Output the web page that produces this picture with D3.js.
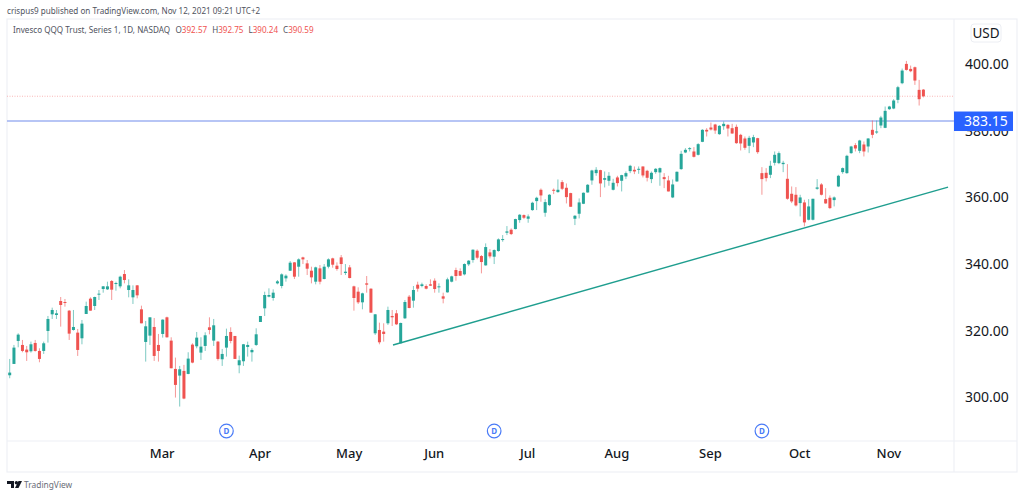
<!DOCTYPE html>
<html>
<head>
<meta charset="utf-8">
<script src="https://cdn.jsdelivr.net/npm/d3@7"></script>
<style>
  html, body { margin: 0; padding: 0; background: #fff; }
  svg { display: block; }
  text { font-family: "Noto Sans", sans-serif; }
</style>
</head>
<body>
<svg id="chart" width="1024" height="497"></svg>
<script>
const opens = [
  306.8,310.2,317.1,315.9,314.5,314.0,316.5,314.1,314.1,320.1,325.1,324.9,329.1,328.8,326.2,320.4,319.6,317.9,325.2,329.8,
  327.6,331.0,332.7,332.6,335.1,334.2,333.5,337.2,332.4,330.2,333.8,326.6,316.8,318.7,321.3,315.9,319.2,324.2,317.2,308.7,
  306.7,308.1,307.2,316.0,315.5,313.6,315.6,321.2,317.2,316.9,311.6,315.1,319.8,318.6,309.8,311.0,315.3,313.7,315.9,322.8,
  326.9,330.4,330.0,334.4,333.6,335.9,338.2,340.7,339.4,342.2,340.4,338.2,334.9,338.9,335.7,339.4,341.9,339.7,342.2,337.5,
  339.2,333.5,331.9,328.7,334.4,332.8,319.4,320.4,319.9,322.4,324.6,325.4,316.4,323.9,330.4,329.2,334.0,333.6,333.6,334.1,
  335.2,333.2,330.5,331.7,334.9,338.4,338.1,337.1,340.1,341.4,344.2,342.6,339.8,343.7,342.4,344.1,347.4,349.6,350.5,350.7,
  353.4,354.9,353.8,356.4,359.1,362.5,355.6,357.9,362.5,361.8,364.8,363.1,361.5,353.8,355.3,358.3,361.7,365.3,367.5,368.4,
  365.5,365.2,362.5,366.2,365.2,366.5,368.1,368.5,368.5,369.5,368.2,365.7,367.8,367.7,366.3,365.3,360.2,365.0,368.7,373.7,
  374.7,374.0,373.0,376.9,380.5,381.2,382.1,379.2,381.6,382.0,381.0,381.4,379.0,377.9,375.7,376.7,378.0,367.5,367.6,367.0,
  370.6,370.5,370.2,365.8,361.3,361.0,358.5,358.7,353.5,353.5,362.8,364.1,359.7,360.1,359.4,363.5,367.8,367.5,373.5,375.9,
  374.2,376.1,375.5,380.5,379.7,381.8,381.1,386.7,386.9,389.5,394.5,400.3,398.8,399.3,392.5,392.57
]
const highs = [
  311.7,315.9,319.4,317.4,315.6,316.9,317.4,314.9,316.9,324.6,327.1,326.4,330.3,329.7,326.4,326.4,320.7,323.4,328.9,330.2,
  330.4,332.4,333.6,334.9,335.4,334.9,336.7,338.4,335.6,333.8,333.9,327.7,323.1,324.2,324.0,319.2,323.6,324.4,318.2,312.1,
  309.6,309.9,313.7,316.4,319.8,318.2,319.7,324.2,323.7,317.1,314.7,320.8,321.2,318.6,312.7,316.2,316.9,314.9,320.9,324.6,
  331.9,332.9,332.6,335.4,337.4,337.1,341.1,340.8,341.9,342.4,341.4,339.4,339.4,339.9,340.2,341.9,342.1,340.7,342.9,340.2,
  339.9,333.7,333.2,331.6,336.6,332.9,325.2,322.6,322.4,327.4,326.4,326.4,322.6,329.4,330.9,333.6,334.9,334.6,334.1,335.6,
  335.9,334.4,331.6,336.1,336.7,339.1,338.9,340.4,341.4,344.6,344.6,342.9,346.4,344.7,344.6,347.9,348.9,351.6,350.9,353.8,
  355.2,355.1,355.1,358.9,360.4,362.9,359.7,361.2,362.9,365.6,365.4,364.4,361.6,354.9,359.9,361.7,364.2,368.5,369.3,368.5,
  368.0,367.8,365.8,366.7,367.0,368.0,370.0,369.5,369.5,369.5,368.5,368.0,369.0,369.2,367.5,366.7,365.6,368.0,374.2,375.0,
  375.3,375.3,376.5,380.7,381.0,382.7,382.3,381.9,383.0,382.2,382.3,382.1,379.3,378.5,378.7,379.0,378.1,369.3,369.0,371.2,
  374.0,374.0,371.2,370.2,363.5,363.3,361.0,359.5,359.7,359.8,365.7,364.5,363.0,360.8,360.5,367.0,369.2,373.0,375.7,376.5,
  377.5,377.0,378.0,383.3,383.3,384.7,387.5,387.7,389.7,393.7,398.9,401.2,399.8,399.5,395.5,392.75
]
const lows = [
  305.9,310.2,315.2,313.7,311.1,313.6,313.9,310.7,313.2,316.6,323.7,323.7,321.4,327.4,317.4,320.2,312.6,316.1,325.2,326.2,
  326.4,329.4,331.6,332.4,329.4,332.2,332.9,334.4,330.2,328.2,329.9,322.4,310.9,315.9,311.1,310.9,318.1,318.1,308.9,300.1,
  297.4,299.6,307.1,310.4,314.9,311.4,314.1,319.1,315.6,311.2,309.6,312.4,316.4,311.7,307.4,309.6,312.4,310.9,315.6,322.8,
  324.6,330.2,329.2,334.1,332.9,334.9,338.1,335.7,336.4,340.2,336.9,334.4,334.1,334.1,335.6,338.9,339.1,338.2,336.9,336.9,
  335.9,326.2,328.2,326.6,331.6,325.6,318.9,316.1,316.9,321.9,321.6,321.9,316.4,323.7,326.9,327.1,331.9,333.2,332.6,333.6,
  331.6,331.6,328.4,331.6,334.7,335.2,336.6,336.8,339.6,340.6,341.6,337.4,339.7,341.9,340.2,343.9,346.9,348.9,348.9,350.6,
  352.6,353.7,352.6,356.2,356.4,358.9,354.4,357.6,361.2,361.6,362.4,358.4,357.4,351.9,353.9,358.2,361.6,364.0,366.7,360.3,
  363.2,363.7,362.3,363.5,362.0,365.7,367.5,367.2,367.3,366.2,365.0,364.5,367.3,363.7,363.0,362.0,360.0,364.9,368.5,373.5,
  374.0,372.2,372.8,376.8,378.5,380.3,379.3,379.0,380.5,378.5,379.3,376.3,374.3,374.5,373.5,375.3,373.3,361.0,365.0,366.0,
  369.8,370.2,367.8,359.5,358.5,357.5,354.5,351.5,353.3,353.3,362.5,360.8,358.3,356.7,357.5,363.3,367.3,367.3,373.3,374.0,
  373.5,372.5,373.7,378.0,379.3,381.0,381.0,386.5,386.7,388.5,394.2,398.3,397.8,394.0,387.8,390.24
]
const closes = [
  307.6,315.1,319.0,314.1,313.7,316.1,314.1,311.7,316.4,323.7,326.4,325.4,327.9,328.5,319.3,321.3,314.4,322.3,327.6,326.2,
  330.3,331.3,333.5,333.5,332.5,334.5,336.4,335.4,333.8,332.4,330.8,322.4,321.5,324.2,312.6,314.1,323.5,318.2,308.9,303.9,
  308.6,299.8,311.8,310.6,318.1,315.4,318.8,320.4,321.8,311.7,313.2,318.6,317.1,311.7,311.3,316.1,315.9,314.4,319.1,324.6,
  330.9,330.9,331.6,335.0,337.1,336.7,340.6,336.4,341.6,341.6,338.8,336.2,339.2,334.9,339.4,341.6,340.0,338.7,340.2,337.9,
  336.0,330.0,328.7,331.4,334.0,325.6,325.1,316.7,319.2,326.4,324.2,322.1,322.5,328.8,327.0,332.4,332.8,334.1,332.8,333.7,
  332.7,333.5,329.8,335.6,336.5,336.6,336.7,340.2,341.2,344.5,342.1,340.8,345.3,342.5,344.4,347.6,347.7,350.0,349.2,353.7,
  355.0,354.1,354.5,358.6,360.1,360.8,358.8,361.0,362.2,362.5,362.8,360.3,357.4,354.7,358.7,361.6,364.0,368.3,368.5,364.4,
  366.0,366.7,364.6,364.5,366.9,367.5,369.7,368.0,368.8,366.8,366.1,367.6,368.8,369.0,365.7,362.0,364.1,367.9,373.3,374.5,
  375.0,372.4,376.2,380.5,380.0,380.6,380.3,381.7,382.3,380.9,379.4,376.5,376.4,375.1,378.1,378.3,373.8,365.7,366.0,369.7,
  373.0,373.5,370.6,359.8,359.0,357.8,360.2,352.7,357.5,359.8,363.2,361.0,358.4,357.0,360.2,366.7,369.0,372.7,375.5,374.9,
  377.3,374.0,377.9,379.0,380.0,384.2,386.2,387.5,389.3,393.3,398.3,398.5,398.1,395.3,389.7,390.59
]

const priceTicks = [300, 320, 340, 360, 380, 400]
const monthLabels = ['Mar', 'Apr', 'May', 'Jun', 'Jul', 'Aug', 'Sep', 'Oct', 'Nov']
const monthStarts = [37, 60, 81, 101, 123, 144, 166, 187, 208]
const dividendBars = [52, 115, 178]
const supportPrice = 383.15
const lastPrice = 390.59
const trendBars = [91.2, 221.8]
const trendPrices = [315.9, 363.3]

const green = '#26a69a'
const red = '#ef5350'
const border = '#eef0f5'

// pane edges
const left = 7
const right = 1017
const top_ = 19
const paneRight = 954
const paneBottom = 441
const frameBottom = 472

const svg = d3.select('#chart')

const xScale = d3.scaleLinear().domain([1, 216]).range([9.7, 923.4])
const yScale = d3.scaleLinear().domain([300, 400]).range([397.9, 64.9])

svg.append('text')
  .attr('x', 7).attr('y', 14)
  .attr('font-size', 8.1).attr('fill', '#50535e')
  .text('crispus9 published on TradingView.com, Nov 12, 2021 09:21 UTC+2')

svg.append('rect')
  .attr('x', left).attr('y', top_)
  .attr('width', right - left).attr('height', frameBottom - top_)
  .attr('fill', '#fff').attr('stroke', border).attr('stroke-width', 1.2)
svg.append('line')
  .attr('x1', left).attr('x2', right).attr('y1', paneBottom).attr('y2', paneBottom)
  .attr('stroke', border).attr('stroke-width', 1.2)
svg.append('line')
  .attr('x1', paneRight).attr('x2', paneRight).attr('y1', top_).attr('y2', frameBottom)
  .attr('stroke', border).attr('stroke-width', 1.2)

// horizontal level and last price
svg.append('line')
  .attr('x1', left).attr('x2', paneRight)
  .attr('y1', yScale(lastPrice)).attr('y2', yScale(lastPrice))
  .attr('stroke', '#f7a5a3').attr('stroke-width', 0.8).attr('stroke-dasharray', '1 1.5')
svg.append('line')
  .attr('x1', left).attr('x2', paneRight)
  .attr('y1', yScale(supportPrice)).attr('y2', yScale(supportPrice))
  .attr('stroke', '#9fb2f2').attr('stroke-width', 1.3)

const candles = svg.append('g')
  .selectAll('g')
  .data(d3.range(216))
  .enter()
  .append('g')
    .attr('fill', i => closes[i] >= opens[i] ? green : red)
    .attr('stroke', i => closes[i] >= opens[i] ? green : red)

candles.append('line')
  .attr('x1', i => xScale(i + 1)).attr('x2', i => xScale(i + 1))
  .attr('y1', i => yScale(highs[i])).attr('y2', i => yScale(lows[i]))
  .attr('stroke-width', 0.8)
  .attr('stroke-opacity', 0.75)

candles.append('rect')
  .attr('x', i => xScale(i + 1) - 1.5)
  .attr('width', 3)
  .attr('y', i => yScale(Math.max(opens[i], closes[i])))
  .attr('height', i => Math.max(1, Math.abs(yScale(opens[i]) - yScale(closes[i]))))
  .attr('stroke', 'none')

svg.append('line')
  .attr('x1', xScale(trendBars[0])).attr('x2', xScale(trendBars[1]))
  .attr('y1', yScale(trendPrices[0])).attr('y2', yScale(trendPrices[1]))
  .attr('stroke', '#1f9e8f').attr('stroke-width', 1.4)

const legend = svg.append('text')
  .attr('x', 13).attr('y', 33)
  .attr('font-size', 8.1).attr('fill', '#50535e')
legend.append('tspan').text('Invesco QQQ Trust, Series 1, 1D, NASDAQ')
const ohlc = [['O', opens[215]], ['H', highs[215]], ['L', lows[215]], ['C', closes[215]]]
ohlc.forEach((d, i) => {
  legend.append('tspan').attr('dx', i ? 5 : 5.5).text(d[0])
  legend.append('tspan').attr('fill', red).text(d3.format('.2f')(d[1]))
})

// dividend markers
const marks = svg.append('g')
  .selectAll('g')
  .data(dividendBars)
  .enter()
  .append('g')
    .attr('transform', d => 'translate(' + xScale(d) + ',' + 431 + ')')
marks.append('circle').attr('r', 6.8).attr('fill', '#fff').attr('stroke', '#4a7bf7').attr('stroke-width', 1.2)
marks.append('text')
  .attr('text-anchor', 'middle').attr('y', 3)
  .attr('font-size', 8).attr('font-weight', 700).attr('fill', '#4a7bf7')
  .text('D')

const xAxis = d3.axisBottom(xScale)
  .tickValues(monthStarts)
  .tickSize(0)
  .tickPadding(8)
  .tickFormat((d, i) => monthLabels[i])
svg.append('g')
  .attr('transform', 'translate(-1,' + paneBottom + ')')
  .call(xAxis)
  .call(g => g.select('.domain').remove())
  .selectAll('text')
    .attr('font-size', 13).attr('font-weight', 500)
    .attr('font-family', '"Noto Sans", sans-serif').attr('fill', '#131722')

const yAxis = d3.axisRight(yScale)
  .tickValues(priceTicks)
  .tickSize(0)
  .tickPadding(0)
  .tickFormat(d3.format('.2f'))
svg.append('g')
  .attr('transform', 'translate(965,-0.6)')
  .call(yAxis)
  .call(g => g.select('.domain').remove())
  .selectAll('text')
    .attr('font-size', 14).attr('font-family', '"Noto Sans", sans-serif').attr('fill', '#131722')

// currency box
svg.append('rect')
  .attr('x', 971).attr('y', 24).attr('width', 30).attr('height', 18).attr('rx', 3)
  .attr('fill', '#fff').attr('stroke', '#eceef3')
svg.append('text')
  .attr('x', 986).attr('y', 38).attr('text-anchor', 'middle')
  .attr('font-size', 13.5).attr('fill', '#131722')
  .text('USD')

// level label sits over the 380 tick
svg.append('rect')
  .attr('x', paneRight).attr('y', yScale(supportPrice) - 9.5)
  .attr('width', 59).attr('height', 19.5)
  .attr('fill', '#2962ff')
svg.append('text')
  .attr('x', 964).attr('y', yScale(supportPrice) + 5)
  .attr('font-size', 14).attr('fill', '#fff')
  .text(d3.format('.2f')(supportPrice))

// footer logo
const logo = svg.append('g').attr('transform', 'translate(7,481)').attr('fill', '#131722')
logo.append('path').attr('d', 'M0 0H7V7H4V3H0Z')
logo.append('circle').attr('cx', 9.4).attr('cy', 1.7).attr('r', 1.7)
logo.append('path').attr('d', 'M11.5 0H15L11.5 7H8Z')
svg.append('text')
  .attr('x', 24).attr('y', 488)
  .attr('font-size', 8.4).attr('fill', '#6a6d78')
  .text('TradingView')
</script>
</body>
</html>
